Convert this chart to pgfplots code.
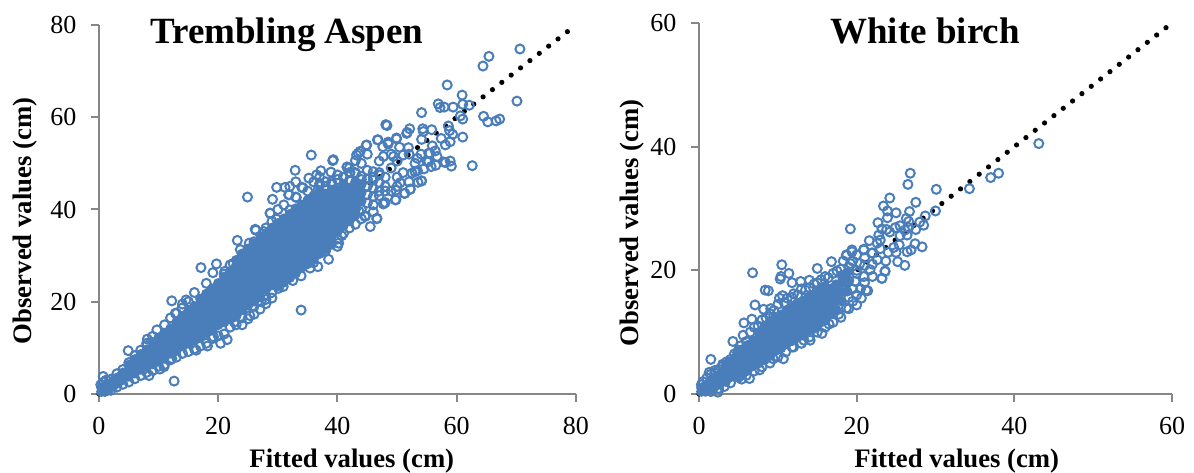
\documentclass[border=0pt]{standalone}
\usepackage{fontspec}
\setmainfont{Liberation Serif}
\usepackage{pgfplots}
\pgfplotsset{compat=1.18}
\definecolor{ptblue}{HTML}{4A7EBB}
\definecolor{axgray}{HTML}{868686}
\pgfplotsset{
  pan/.style={
    scale only axis, clip=false,
    axis x line*=bottom, axis y line*=left,
    axis line style={axgray,line width=2pt},
    tick style={axgray,line width=2pt},
    major tick length=8pt, tick align=outside,
    minor tick num=0,
    /pgf/number format/assume math mode=true,
    tick label style={font=\fontsize{26}{30}\selectfont},
    xticklabel style={yshift=-12pt},
    yticklabel style={xshift=-11pt},
    label style={font=\bfseries\fontsize{26.7}{30}\selectfont},
    title style={font=\bfseries\fontsize{37}{41}\selectfont,anchor=center},
    xmin=0, ymin=0,
  },
  hollow/.style={only marks, mark=o, mark size=4.5pt, mark options={ptblue,line width=2pt}},
  solid core/.style={only marks, mark=*, mark size=4.2pt, mark options={ptblue,fill=ptblue,line width=2pt}},
  dots/.style={black, line width=5.2pt, line cap=round},
}
\begin{document}
\begin{tikzpicture}
\path[use as bounding box] (0,0) rectangle (1194pt,473pt);
\begin{axis}[pan, at={(99pt,79pt)}, anchor=south west, width=477pt, height=369pt,
  xmax=80, ymax=80, xtick={0,20,40,60,80}, ytick={0,20,40,60,80},
  title={Trembling Aspen}, title style={at={(0.394,0.986)},yshift=-11pt},
  xlabel={Fitted values (cm)}, xlabel style={at={(axis description cs:0.53,-0.181)},anchor=center},
  ylabel={Observed values (cm)}, ylabel style={at={(axis description cs:-0.155,0.469)},anchor=center}]
\addplot[dots, dash pattern=on 0pt off 11.844pt] coordinates {(0,0)(78.7,78.7)};
\addplot[solid core] coordinates {
(0.4,0.5)(0.4,1.4)(1,0.5)(1,1.5)(1.7,1.1)(1.7,2.2)(2.4,1.7)(2.4,2.9)(3.2,2.4)(3.2,3.6)(4,3.1)(4,4.6)
(5,3.8)(5,5.3)(5,6.3)(6,4.5)(6,6.1)(6,7.5)(7,5.3)(7,7)(7,8.6)(8,6)(8,7.8)(8,9.6)
(9,6.5)(9,8.3)(9,10.1)(9,11.2)(10,7.3)(10,9.1)(10,10.9)(10,12.2)(11,7.9)(11,9.7)(11,11.5)(11,13.2)
(12,8.8)(12,10.6)(12,12.4)(12,14.2)(13,9.4)(13,11.2)(13,13)(13,14.8)(13,15.6)
(14,10.4)(14,12.2)(14,14)(14,15.8)(14,16.9)(15,11)(15,12.8)(15,14.6)(15,16.4)(15,18)
(16,11.8)(16,13.6)(16,15.4)(16,17.2)(16,19)(17,12.4)(17,14.2)(17,16)(17,17.8)(17,19.6)(17,20.6)
(18,13.3)(18,15.1)(18,16.9)(18,18.7)(18,20.5)(18,21.7)(19,14)(19,15.8)(19,17.6)(19,19.4)(19,21.2)(19,22.8)
(20,15)(20,16.8)(20,18.6)(20,20.4)(20,22.2)(20,24)
(21,15.6)(21,17.4)(21,19.2)(21,21)(21,22.8)(21,24.6)(21,25.4)
(22,16.5)(22,18.3)(22,20.1)(22,21.9)(22,23.7)(22,25.5)(22,26.6)
(23,17.4)(23,19.2)(23,21)(23,22.8)(23,24.6)(23,26.4)(23,27.8)(23,29)
(24,18.3)(24,20.1)(24,21.9)(24,23.7)(24,25.5)(24,27.3)(24,29)(24,30.4)
(25,19.2)(25,21)(25,22.8)(25,24.6)(25,26.4)(25,28.2)(25,30)(25,31.5)
(26,20.1)(26,21.9)(26,23.7)(26,25.5)(26,27.3)(26,29.1)(26,30.9)(26,32.6)
(27,21)(27,22.8)(27,24.6)(27,26.4)(27,28.2)(27,30)(27,31.8)(27,33.6)
(28,22.6)(28,24.4)(28,26.2)(28,28)(28,29.8)(28,31.6)(28,33.4)(28,34.8)
(29,23.6)(29,25.4)(29,27.2)(29,29)(29,30.8)(29,32.6)(29,34.4)(29,36)
(30,23.4)(30,24.6)(30,26.4)(30,28.2)(30,30)(30,31.8)(30,33.6)(30,35.4)(30,37)
(31,24.2)(31,25.6)(31,27.4)(31,29.2)(31,31)(31,32.8)(31,34.6)(31,36.4)(31,38)
(32,25.2)(32,26.6)(32,28.4)(32,30.2)(32,32)(32,33.8)(32,35.6)(32,37.4)(32,39)
(33,26.2)(33,27.6)(33,29.4)(33,31.2)(33,33)(33,34.8)(33,36.6)(33,38.4)(33,40.2)
(34,27.4)(34,28.6)(34,30.4)(34,32.2)(34,34)(34,35.8)(34,37.6)(34,39.4)(34,41)
(35,28.2)(35,29.6)(35,31.4)(35,33.2)(35,35)(35,36.8)(35,38.6)(35,40.4)(35,42)
(36,29.4)(36,30.8)(36,32.6)(36,34.4)(36,36.2)(36,38)(36,39.8)(36,41.4)(36,43)
(37,30.4)(37,31.8)(37,33.6)(37,35.4)(37,37.2)(37,39)(37,40.8)(37,42.4)(37,44)
(38,31.4)(38,33)(38,34.8)(38,36.6)(38,38.4)(38,40.2)(38,42)(38,43.4)
(39,32.4)(39,34)(39,35.8)(39,37.6)(39,39.4)(39,41.2)(39,43)(39,44.2)
(40,35.2)(40,37)(40,38.8)(40,40.6)(40,42.4)(40,44.2)
(41,36.5)(41,38.3)(41,40.1)(41,41.9)(41,43.7)(41,45.5)
(42,37.5)(42,39.3)(42,41.1)(42,42.9)(42,44.7)
(43,38.8)(43,40.6)(43,42.4)(43,44.2)(43,46)
(44,41.8)(44,43.6)(44,45.4)
};
\addplot[hollow] coordinates {
(70.6,74.8)(65.4,73.2)(64.4,71.1)(70.1,63.5)(58.4,67)(60.9,64.8)(54.1,61)(56.9,62.9)(57.2,62.1)(57.9,62.2)
(59.4,62.2)(61,62.8)(62.1,62.6)(60.6,60.3)(61,59.6)(64.5,60.2)(65.2,59)(66.6,59.2)(67.2,59.6)(48.1,58.4)
(48.3,58.2)(51.7,56.7)(52.1,57.5)(54.3,57.5)(54.1,55.2)(55.8,57.3)(58.6,58.1)(58.8,57.1)(59.3,56.3)(61,55.7)
(57.4,55.4)(58.9,54.7)(58.1,54)(46.8,55.1)(44.8,53.9)(47.6,53.6)(48.5,54.6)(49.9,55.3)(51.9,53.4)(50.4,53.5)
(55.9,53.8)(56.4,52.7)(55.3,52.2)(53.4,51.1)(56.7,51.5)(55.3,50.4)(58.9,50.5)(58.1,50.2)(59.1,49.4)(62.6,49.5)
(56.5,49.6)(55.7,49.3)(54.5,48.8)(53.4,48.4)(52.5,47.9)(54.1,46.2)(53.5,45.9)(52.2,44.4)(51.3,43.5)(49.8,42.1)
(47.7,41.4)(50.5,45.8)(39.3,50.8)(41.6,49.2)(43.2,51.8)(43.8,52.6)(46.6,38.1)(44.6,38.5)
(24.9,42.7)(29.8,44.8)(31.2,44.8)(31.9,43.2)(33,42.7)(29.1,42.2)(34.2,44.7)(37.1,45.4)(28.7,39.2)(29,37.4)
(26.3,35.5)(27.7,35.2)(23.2,33.3)(23.7,31.3)(25.2,32.7)(17.1,27.4)(19.7,28.2)(19.1,26.3)(21.1,26.6)(22.5,28.3)
(12.2,20.2)(14.6,20.4)(12.8,17.5)(13.9,18.6)(9.7,13.9)(8.1,11.9)(4.9,9.4)(12.6,2.8)(0.7,3.8)(33.9,18.2)
(38.5,29.2)(36.7,27.6)(35.4,27.3)(33.9,25.6)(32.5,24.6)(30.9,23.3)(30.1,22.9)(27.9,21.4)(27.2,20)(25.3,17)
(22.7,15.6)(21.5,11.8)(20.4,11)(19.2,12.4)(16.3,9.5)(18.2,10.4)(12.2,7.7)(10.9,5.9)(10.2,5.4)(8.4,4)
(40.2,32.7)(37.5,31.4)
(35.6,51.8)(32.9,48.5)(39.2,50.6)(31.8,43.2)(33.1,42.6)(35.2,46.8)(36.5,47.5)(37.2,48.4)(38.9,48.1)(37,45.6)
(41.6,49.2)(42.1,48)(43,50.6)(43.5,52.2)(44.9,54)(46.7,55.1)(48.5,54.2)(49.9,55.5)(51.6,56.5)(54.4,56.9)
(47.7,51.5)(49.4,51.5)(51,51.8)(55.5,52.2)(57.8,50.3)(55,50.4)(53,48.2)(54.1,46.2)(52.2,44.4)(51.2,43.5)
(49.7,42.1)(47.7,41.2)(46.6,38)(45.5,36.3)(44.7,38.6)(43.6,39.6)(38.8,32.7)(40.7,34.3)(26.2,35.7)(28.7,39.2)
(29.8,37.9)(32,39.9)(35.2,41.9)(36.7,44.2)(49.8,44.2)
(45,52)(47,48)(49,52)(50,47)(48,44)(46,39.5)(44,38)(42,36)(41,34.8)(43,36.8)(40,32)(39,36)(38,31)(36,29.5)
(35,30)(38,46)(37,47)(36,46)(35,44)(34,44.8)(33,46)(32,45)(31,41)(30,40)(28,36)(26,33)(24,30)(22,28)(21,26)
(18,24)(16,22)(15,20)(14,19.5)(13,17.5)(12,16.5)(11,15)(9,12.5)(8,11)(24,16.5)(23,17)(26,19)(28,20.5)(29,22)
(32,25.5)(36,28.5)(52,52)(50,50.5)(53,50)(51,48)(49,49)(47,50.5)(54,52)(52,46)(49,44)(47,43)(50,45)(48,41.5)
(46,41)(44,50)(43,48)(46,47)(44,46.5)(42,49)(41,47)(40,47.5)(39,45.5)(37,43)(43,40)
(0.3,2)(0.8,2.6)(1.2,3)(2,3.2)(3,4.4)(4,5.3)(5,6.8)(6,8.3)(7,9.5)(8,10.5)(2,0.8)(3,1.5)(4,2.1)(5,2.6)(6,3.3)
(7,4)(8,4.7)(9,5.1)(10,6)(11,6.4)(12,7.4)(13,8)(14,8.8)(15,9.2)(16,9.8)(17,10.4)(18,11)(19,12)(20,12.6)(21,13)
(22,14.5)(23,15)(24,15)(25,16.3)(26,17.3)(27,18.4)(28,19.6)(29,20.8)
(38,45)(39,46)(40,33.6)(40,46.5)(41,47)(42,46.3)(42,48)(43,47.8)(44,40)(44,47.2)(45,41.4)(45,43.2)(45,45)(45,46.6)(45,48.5)
(46,42.8)(46,44.6)(46,46.4)(46,48.2)(47,44)(47,45.8)(47,47.5)(48,45)(48,47)
};
\end{axis}
\begin{axis}[pan, at={(699pt,79pt)}, anchor=south west, width=473pt, height=371pt,
  xmax=60, ymax=60, xtick={0,20,40,60}, ytick={0,20,40,60},
  title={White birch}, title style={at={(0.478,0.981)},yshift=-7pt},
  xlabel={Fitted values (cm)}, xlabel style={at={(axis description cs:0.545,-0.18)},anchor=center},
  ylabel={Observed values (cm)}, ylabel style={at={(axis description cs:-0.142,0.461)},anchor=center}]
\addplot[dots, dash pattern=on 0pt off 11.87pt] coordinates {(0,0)(59.5,59.5)};
\addplot[solid core] coordinates {
(0.3,0.4)(0.3,1)(0.8,0.4)(0.8,1.3)(1.4,0.8)(1.4,2)(2,1.2)(2,2.6)(2.7,1.8)(2.7,3.2)(3.4,2)(3.4,3.4)(3.4,4.6)
(4.1,2.8)(4.1,4.1)(4.1,5.3)(4.8,2.8)(4.8,4.1)(4.8,5.5)(4.8,6.2)(5.5,3.5)(5.5,4.9)(5.5,6.2)(5.5,7.2)
(6.2,3.9)(6.2,5.2)(6.2,6.6)(6.2,7.9)(6.9,4.6)(6.9,5.9)(6.9,7.3)(6.9,8.6)
(7.6,5)(7.6,6.3)(7.6,7.7)(7.6,9)(7.6,10)(8.3,5.5)(8.3,6.9)(8.3,8.2)(8.3,9.6)(8.3,10.9)
(9,6.2)(9,7.6)(9,8.9)(9,10.3)(9,11.6)(9.7,7)(9.7,8.3)(9.7,9.7)(9.7,11)(9.7,12.4)
(10.4,7.4)(10.4,8.8)(10.4,10.1)(10.4,11.5)(10.4,12.8)(11.1,8.1)(11.1,9.4)(11.1,10.8)(11.1,12.1)(11.1,13.5)
(11.8,8.6)(11.8,9.9)(11.8,11.3)(11.8,12.6)(11.8,14)(12.5,9.2)(12.5,10.5)(12.5,11.9)(12.5,13.2)(12.5,14.6)
(13.2,9.6)(13.2,11)(13.2,12.3)(13.2,13.7)(13.2,15)(13.9,10.3)(13.9,11.6)(13.9,13)(13.9,14.3)(13.9,15.7)
(14.6,10.6)(14.6,12)(14.6,13.3)(14.6,14.7)(14.6,16)(15.3,11.5)(15.3,12.8)(15.3,14.2)(15.3,15.5)(15.3,16.9)
(16,11.9)(16,13.3)(16,14.6)(16,16)(16,17.3)(16.7,13)(16.7,14.3)(16.7,15.7)(16.7,17)
(17.4,13.6)(17.4,15)(17.4,16.3)(17.4,17.7)(18.1,15)(18.1,16.5)(18.1,18)(18.1,19.2)(18.8,16.6)(18.8,18)(18.8,19.6)
};
\addplot[hollow] coordinates {
(1.5,5.6)(1.3,3.5)(2,3.8)(3,4.5)(4.3,8.5)(5.6,9.5)(4.9,6.7)(5.7,11.5)(6.7,12.1)(7.1,14.4)(8.2,13.7)(9.1,13.8)
(6.8,19.6)(8.4,16.8)(8.8,16.7)(10.5,20.9)(11.4,19.5)(10.4,19)(10.3,18.6)(11.8,18)(12.9,18.2)(10.2,15.5)(10.6,15.9)
(12,16.2)(14,18.4)(15,20.3)(16.8,21.4)(18.7,22.5)(19.4,23.3)(20.9,23.4)(23.2,18.7)(23.6,19.8)(21.4,16.7)(20.6,15.5)
(20,14.4)(18.7,13.9)(17.7,12.9)(16.5,11.3)(15.6,9.8)(14.1,8.7)(13.3,8.7)(11.8,7.6)(10.7,5.7)(9.4,5.7)(7.7,3.9)
(6.4,2.5)(5.4,2.4)(2.4,0.3)
(43.1,40.5)(38,35.7)(37,35)(34.3,33.2)(30.1,33.1)(26.8,35.7)(26.5,33.9)(24.2,31.7)(27.5,31)(23.4,30.4)(23.9,29.6)
(25,29.3)(26.7,29.5)(30,29.6)(28.7,28.8)(23.9,28.5)(22.7,27.7)(19.2,26.7)(26.3,28.4)(26.6,27.9)(28,27.8)(28.5,27.3)
(27.5,26.6)(25.5,27.2)(24.9,26.9)(23.8,26.6)(23.2,26.7)(24.2,26.2)(26.6,26.9)(26.1,26.5)(26.4,25.7)(25.5,25.6)
(22.8,25.7)(21.6,24.8)(23,24.9)(28.3,23.8)(27.4,24.3)(26.9,23.3)(26.4,23)(25.4,24.1)(24.7,23.7)(25,22.9)(24,22.9)
(25.2,21.4)(26.1,20.8)(23.7,21.5)(23.6,19.9)(23.2,18.7)(22.6,24.4)(20.9,23.3)(19.4,23)(18.7,22.4)(20,22.5)(21.9,22.8)
(22.6,21.7)(20.4,21.1)(19.2,21.1)(21.7,20.1)(20.9,19)(19.8,18.2)(21.2,16.8)(18.5,19)(18.1,17.6)
(6,8.5)(6.5,10)(7,10.8)(7.5,11)(8,12)(8.5,12.3)(9,13)(9.5,13.5)(10,14.5)(10.8,14.8)(11.2,15.5)(11.8,15.6)(12.5,16)
(13,17)(13.5,16.8)(14,17.2)(14.6,17.8)(15,18)(15.5,18.5)(16,19)(16.4,18.8)(17,19.5)(17.5,19.9)(18,20.2)(18.3,21.5)
(19,20.5)(19.5,21.5)(20,20)
(4,1.8)(5,2.7)(6,3)(7,3.7)(8,4.4)(9,5)(10,6)(11,6.8)(12,7.6)(13,8.2)(14,9.2)(15,10)(16,10.8)(17,11.6)(18,12.4)
(19,13.8)(19.5,15)(20,16)(20.5,17)(19,15.6)(19.5,17)(21,18)(22,19)(21,20.8)(22,21)(22,22.8)(21,22)(23,23.5)(20,19.5)(19,18.3)
(0.5,2)(1,2.6)(1.5,3.2)(2,3.4)(0.3,1.5)(2.5,4)(3,4.8)(3.5,5.2)(4,5.6)(4.5,6.5)(5,7.1)(5.3,7.8)(1.5,0.4)(2.5,0.9)(3.2,1.2)
};
\end{axis}
\end{tikzpicture}
\end{document}
